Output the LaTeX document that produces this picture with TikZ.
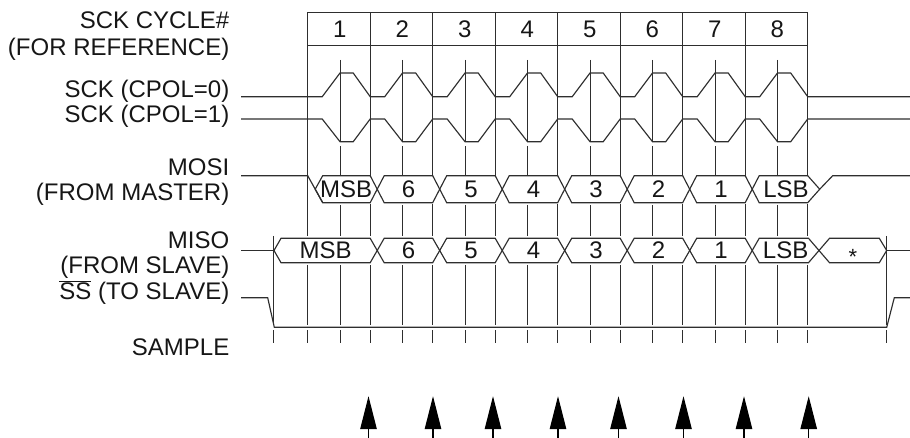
\documentclass[tikz,border=0pt]{standalone}
\usepackage{fontspec}
\setmainfont{Liberation Sans}
\usetikzlibrary{arrows.meta}
\definecolor{linec}{HTML}{2E2E2E}
\definecolor{txtc}{HTML}{161616}
\newcommand\sighex[9]{%
  % #1 name, #2 left point x, #3 left half-width, #4 right point x, #5 right half-width, #6 top, #7 bottom, #8 label, #9 baseline
  \draw[sig] (#2,{(#6+#7)/2}) -- ({#2+#3},#6) -- ({#4-#5},#6) -- (#4,{(#6+#7)/2}) -- ({#4-#5},#7) -- ({#2+#3},#7) -- cycle;
  \node[dat] (#1) at ({(#2+#4)/2},#9) {#8};%
}
\begin{document}
\begin{tikzpicture}[x=1pt,y=-1pt,line join=miter,
  sig/.style={draw=linec,line width=1.15pt},
  gridline/.style={draw=linec,line width=1pt},
  lbl/.style={anchor=base east,inner sep=0pt,font=\fontsize{24}{27}\selectfont,text=txtc},
  dat/.style={anchor=base,inner sep=0pt,font=\fontsize{24}{27}\selectfont,text=txtc},
  sample/.style={draw=black,line width=1.2pt,-{Triangle[length=33pt,width=16.5pt]}}]
\useasboundingbox (0,0) rectangle (910,438);

% ---- labels
\node[lbl] (l1) at (229.5,29) {SCK CYCLE\#};
\node[lbl] (l2) at (229.5,55.5) {(FOR REFERENCE)};
\node[lbl] (l3) at (229.5,98) {SCK (CPOL=0)};
\node[lbl] (l4) at (229.5,122.5) {SCK (CPOL=1)};
\node[lbl] (l5) at (229.5,175.5) {MOSI};
\node[lbl] (l6) at (229.5,200.5) {(FROM MASTER)};
\node[lbl] (l7) at (229.5,248.5) {MISO};
\node[lbl] (l8) at (229.5,273.5) {(FROM SLAVE)};
\node[lbl] (l9) at (229.5,299.5) {$\overline{\hbox{SS}}$ (TO SLAVE)};
\node[lbl] (l10) at (229.5,355.5) {SAMPLE};

% ---- cycle box
\draw[gridline] (307.7,13) rectangle (807.7,45.5);
\foreach \k in {1,...,8}{
  \node[dat] (n\k) at ({307.7+62.5*\k-30.5},37.6) {\k};
}

% ---- boundary lines
\draw[gridline] (307.7,13) -- (307.7,236);
\draw[gridline] (307.7,265) -- (307.7,325);
\foreach \k in {1,...,8}{
  \draw[gridline] ({307.7+62.5*\k},13) -- ({307.7+62.5*\k},175.7);
  \draw[gridline] ({307.7+62.5*\k},204) -- ({307.7+62.5*\k},236);
  \draw[gridline] ({307.7+62.5*\k},265) -- ({307.7+62.5*\k},325);
}
% ---- mid lines
\foreach \k in {0,...,7}{
  \draw[gridline] ({340+62.5*\k},60) -- ({340+62.5*\k},141.7);
  \draw[gridline] ({340+62.5*\k},146) -- ({340+62.5*\k},175.7);
  \draw[gridline] ({340+62.5*\k},205) -- ({340+62.5*\k},236);
  \draw[gridline] ({340+62.5*\k},265) -- ({340+62.5*\k},325);
}
\draw[gridline] (273.7,236) -- (273.7,325);
\draw[gridline] (886.7,236) -- (886.7,325);

% ---- sample ticks
\foreach \x in {273.7,886.7}{\draw[gridline] (\x,330) -- (\x,343);}
\foreach \k in {0,...,8}{\draw[gridline] ({307.7+62.5*\k},330) -- ({307.7+62.5*\k},343);}
\foreach \k in {0,...,7}{\draw[gridline] ({340+62.5*\k},330) -- ({340+62.5*\k},343);}

% ---- SCK CPOL=0
\draw[sig] (241,96.7) \foreach \k in {0,...,7}{
  -- ({307.7+62.5*\k+14.5},96.7) -- ({307.7+62.5*\k+32.3},73) -- ({307.7+62.5*\k+45.5},73) -- ({307.7+62.5*\k+62.5},96.7)} -- (910,96.7);
% ---- SCK CPOL=1
\draw[sig] (241,119) \foreach \k in {0,...,7}{
  -- ({307.7+62.5*\k+14.5},119) -- ({307.7+62.5*\k+32.3},141.7) -- ({307.7+62.5*\k+45.5},141.7) -- ({307.7+62.5*\k+62.5},119)} -- (910,119);

% ---- MOSI
\draw[sig] (241,175.7) -- (307.7,175.7) -- (322.7,202.7);
\sighex{mo1}{315.2}{7.5}{377.2}{7}{175.7}{202.7}{MSB}{197.8}
\sighex{mo2}{377.2}{7}{439.7}{7}{175.7}{202.7}{6}{197.8}
\sighex{mo3}{439.7}{7}{502.2}{7}{175.7}{202.7}{5}{197.8}
\sighex{mo4}{502.2}{7}{564.7}{7}{175.7}{202.7}{4}{197.8}
\sighex{mo5}{564.7}{7}{627.2}{7}{175.7}{202.7}{3}{197.8}
\sighex{mo6}{627.2}{7}{689.7}{7}{175.7}{202.7}{2}{197.8}
\sighex{mo7}{689.7}{7}{752.2}{7}{175.7}{202.7}{1}{197.8}
\sighex{mo8}{752.2}{7}{819.7}{12}{175.7}{202.7}{LSB}{197.8}
\draw[sig] (819.7,189.2) -- (832.7,175.7) -- (910,175.7);

% ---- MISO
\draw[sig] (241,250.5) -- (274,250.5);
\sighex{mi1}{274}{7}{377.2}{7}{238.3}{262.7}{MSB}{259}
\sighex{mi2}{377.2}{7}{439.7}{7}{238.3}{262.7}{6}{259}
\sighex{mi3}{439.7}{7}{502.2}{7}{238.3}{262.7}{5}{259}
\sighex{mi4}{502.2}{7}{564.7}{7}{238.3}{262.7}{4}{259}
\sighex{mi5}{564.7}{7}{627.2}{7}{238.3}{262.7}{3}{259}
\sighex{mi6}{627.2}{7}{689.7}{7}{238.3}{262.7}{2}{259}
\sighex{mi7}{689.7}{7}{752.2}{7}{238.3}{262.7}{1}{259}
\sighex{mi8}{752.2}{7}{819}{10.5}{238.3}{262.7}{LSB}{259}
\sighex{mi9}{819}{10.5}{886.7}{7.4}{238.3}{262.7}{\raisebox{-5.5pt}{\fontsize{22}{24}\selectfont *}}{259}
\draw[sig] (886.7,250.5) -- (910,250.5);

% ---- SS
\draw[sig] (241,297.7) -- (267.7,297.7) -- (274.3,327.3) -- (886.7,327.3) -- (894.3,297.7) -- (910,297.7);

% ---- sample arrows
\foreach \x [count=\i] in {368.5,433,493,558,618.5,683.5,744,808.7}{
  \coordinate (as\i) at (\x,438);
  \coordinate (ae\i) at (\x,396.2);
  \draw[sample] (as\i) -- (ae\i);
}
\end{tikzpicture}
\end{document}
